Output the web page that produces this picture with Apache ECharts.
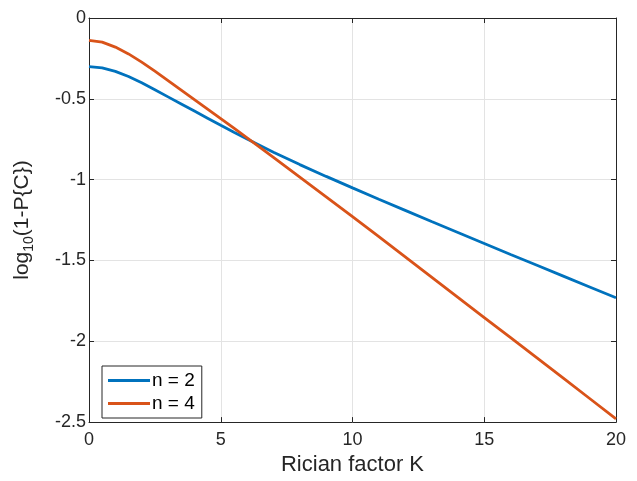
<!DOCTYPE html>
<html>
<head>
<meta charset="utf-8">
<script src="https://cdn.jsdelivr.net/npm/echarts@6/dist/echarts.min.js"></script>
<style>
html,body{margin:0;padding:0;background:#fff;}
#chart{width:637px;height:481px;}
</style>
</head>
<body>
<div id="chart"></div>
<script>
const kValues = [0,0.5,1,1.5,2,2.5,3,3.5,4,4.5,5,5.5,6,7,8,9,10,11,12,13,14,15,16,17,18,19,20];
const seriesN2 = [-0.301,-0.309,-0.330,-0.362,-0.401,-0.444,-0.488,-0.532,-0.576,-0.620,-0.664,-0.707,-0.749,-0.830,-0.907,-0.980,-1.051,-1.121,-1.190,-1.259,-1.327,-1.395,-1.463,-1.530,-1.597,-1.664,-1.731];
const seriesN4 = [-0.138,-0.149,-0.180,-0.222,-0.273,-0.329,-0.387,-0.446,-0.505,-0.564,-0.623,-0.682,-0.741,-0.862,-0.984,-1.106,-1.229,-1.353,-1.478,-1.603,-1.728,-1.853,-1.978,-2.103,-2.228,-2.354,-2.480];
const xTicks = [0,5,10,15,20];
const yTicks = [0,-0.5,-1,-1.5,-2,-2.5];
const seriesNames = ['n = 2','n = 4'];

const FONT = '"Liberation Sans", Arial, Helvetica, sans-serif';
const AX = '#262626';

const chart = echarts.init(document.getElementById('chart'), null, {renderer:'canvas'});
const axisCommon = {
  axisLine:{show:true,onZero:false,lineStyle:{color:AX,width:1}},
  axisTick:{show:true,inside:true,length:5,lineStyle:{color:AX,width:1}}
};
const option = {
  backgroundColor:'#fff',
  animation:false,
  grid:{left:89,top:18,width:527,height:412,containLabel:false},
  legend:{
    orient:'vertical',left:102,top:366,
    data:seriesNames,
    icon:'rect',itemWidth:42,itemHeight:3,itemGap:4,
    padding:[5,7,5,6],
    borderColor:AX,borderWidth:1,backgroundColor:'#fff',
    textStyle:{fontFamily:FONT,fontSize:19,color:'#000',padding:[0,0,0,-3]}
  },
  xAxis:[
    Object.assign({type:'value',min:xTicks[0],max:xTicks[xTicks.length-1],interval:5,position:'bottom',
      name:'Rician factor K',nameLocation:'middle',nameGap:22,
      nameTextStyle:{fontFamily:FONT,fontSize:22,color:AX},
      axisLabel:{fontFamily:FONT,fontSize:18,color:AX,margin:9},
      splitLine:{show:true,lineStyle:{color:'#e3e3e3',width:1}}},axisCommon),
    Object.assign({type:'value',min:0,max:20,interval:5,position:'top',
      axisLabel:{show:false},splitLine:{show:false}},axisCommon)
  ],
  yAxis:[
    Object.assign({type:'value',min:yTicks[yTicks.length-1],max:yTicks[0],interval:0.5,position:'left',
      name:'log{sub|10}(1-P{C})',nameLocation:'middle',nameGap:53,
      nameTextStyle:{fontFamily:FONT,fontSize:21,color:AX,lineHeight:28,
        rich:{sub:{fontFamily:FONT,fontSize:14,color:AX,lineHeight:14,verticalAlign:'bottom'}}},
      axisLabel:{fontFamily:FONT,fontSize:18,color:AX,margin:3},
      splitLine:{show:true,lineStyle:{color:'#e3e3e3',width:1}}},axisCommon),
    Object.assign({type:'value',min:-2.5,max:0,interval:0.5,position:'right',
      axisLabel:{show:false},splitLine:{show:false}},axisCommon)
  ],
  series:[
    {name:seriesNames[0],type:'line',data:kValues.map((k,i)=>[k,seriesN2[i]]),
      showSymbol:false,symbol:'none',smooth:false,color:'#0072BD',lineStyle:{color:'#0072BD',width:2.8}},
    {name:seriesNames[1],type:'line',data:kValues.map((k,i)=>[k,seriesN4[i]]),
      showSymbol:false,symbol:'none',smooth:false,color:'#D95319',lineStyle:{color:'#D95319',width:2.8}}
  ]
};
chart.setOption(option);
</script>
</body>
</html>
